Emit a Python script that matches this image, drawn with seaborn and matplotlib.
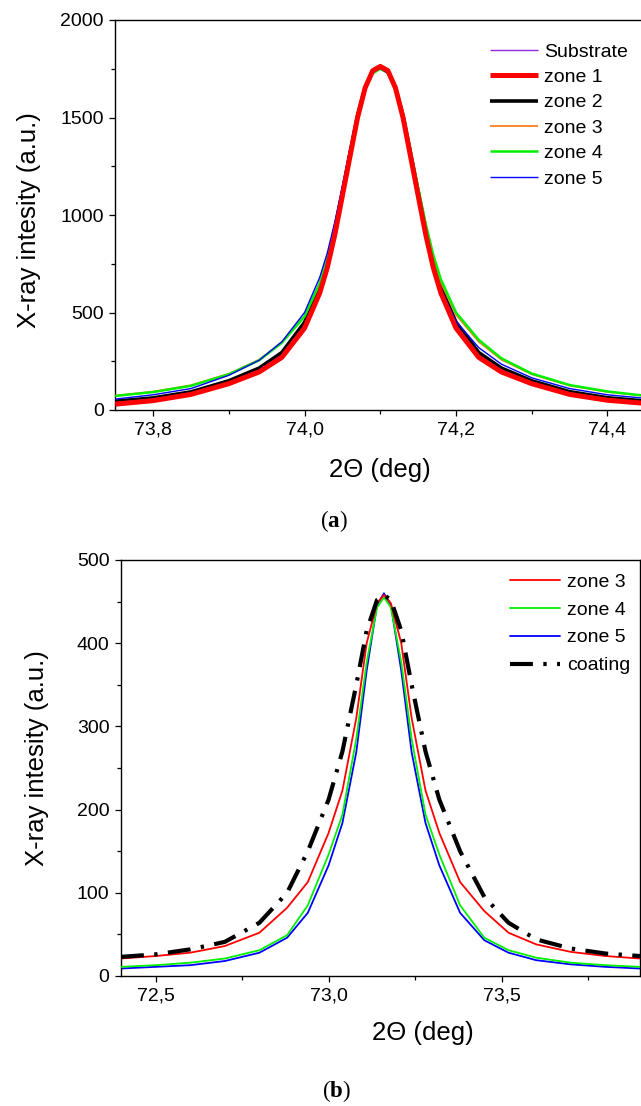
import matplotlib
matplotlib.use("Agg")
import matplotlib.pyplot as plt
import seaborn as sns

# ---------------- data ----------------
# panel (a)
X_A = [73.75, 73.80, 73.85, 73.90, 73.94, 73.97, 74.00,
       74.02, 74.03, 74.04, 74.05, 74.06, 74.07, 74.08, 74.09,
       74.10,
       74.11, 74.12, 74.13, 74.14, 74.15, 74.16, 74.17, 74.18,
       74.20, 74.23, 74.26, 74.30, 74.35, 74.40, 74.45]
SUBSTRATE_A = [38, 56, 88, 142, 205, 282, 435,
               615, 745, 915, 1110, 1310, 1505, 1652, 1738,
               1762,
               1738, 1652, 1505, 1310, 1110, 915, 745, 615,
               435, 282, 205, 142, 88, 58, 40]
ZONE1_A = [30, 48, 80, 135, 195, 270, 420,
           600, 730, 900, 1100, 1300, 1500, 1652, 1740,
           1762,
           1740, 1652, 1500, 1300, 1100, 900, 730, 600,
           420, 270, 195, 135, 80, 50, 34]
ZONE2_A = [45, 62, 93, 150, 215, 295, 450,
           630, 760, 930, 1120, 1318, 1510, 1655, 1739,
           1762,
           1739, 1655, 1510, 1318, 1120, 930, 760, 630,
           450, 295, 215, 150, 94, 63, 46]
ZONE3_A = [74, 94, 127, 186, 258, 347, 482,
           650, 772, 930, 1115, 1305, 1497, 1642, 1726,
           1750,
           1726, 1645, 1502, 1315, 1128, 940, 780, 655,
           488, 350, 258, 183, 125, 93, 72]
ZONE4_A = [72, 92, 124, 183, 255, 345, 480,
           650, 775, 935, 1120, 1310, 1500, 1645, 1727,
           1750,
           1730, 1652, 1510, 1325, 1140, 955, 795, 670,
           500, 360, 265, 187, 128, 95, 73]
ZONE5_A = [56, 78, 110, 178, 255, 350, 500,
           680, 805, 965, 1150, 1340, 1525, 1665, 1740,
           1752,
           1727, 1640, 1490, 1295, 1100, 905, 745, 620,
           455, 320, 235, 165, 110, 78, 60]
LABELS_A = ["Substrate", "zone 1", "zone 2", "zone 3", "zone 4", "zone 5"]

# panel (b)
X_B = [72.40, 72.50, 72.60, 72.70, 72.80, 72.88, 72.94, 73.00, 73.04, 73.08, 73.11, 73.14,
       73.16, 73.18, 73.21, 73.24, 73.28, 73.32, 73.38, 73.45, 73.52, 73.60, 73.70, 73.80, 73.90]
ZONE3_B = [21, 24, 28, 36, 52, 82, 113, 172, 223, 310, 400, 448,
           458, 448, 400, 310, 223, 172, 113, 78, 52, 38, 29, 24, 21]
ZONE4_B = [11, 13, 16, 21, 31, 49, 85, 146, 194, 285, 377, 443,
           455, 443, 377, 285, 194, 146, 85, 46, 31, 22, 16, 13, 11]
ZONE5_B = [9, 11, 13, 18, 28, 46, 76, 133, 184, 269, 367, 446,
           460, 446, 367, 269, 184, 133, 76, 43, 28, 19, 14, 11, 9]
COATING_B = [23, 26, 32, 41, 64, 100, 150, 212, 270, 350, 415, 452,
             458, 452, 415, 350, 270, 212, 150, 95, 64, 44, 33, 27, 24]
LABELS_B = ["zone 3", "zone 4", "zone 5", "coating"]

# ticks
XT_A = [73.8, 74.0, 74.2, 74.4]
XT_A_LABELS = ["73,8", "74,0", "74,2", "74,4"]
XT_A_MINOR = [73.9, 74.1, 74.3]
YT_A = [0, 500, 1000, 1500, 2000]
YT_A_MINOR = [250, 750, 1250, 1750]
XT_B = [72.5, 73.0, 73.5]
XT_B_LABELS = ["72,5", "73,0", "73,5"]
XT_B_MINOR = [72.75, 73.25, 73.75]
YT_B = [0, 100, 200, 300, 400, 500]
YT_B_MINOR = [50, 150, 250, 350, 450]

# ---------------- style ----------------
sns.set_theme(style="ticks", rc={
    "axes.edgecolor": "black", "xtick.color": "black", "ytick.color": "black",
    "text.color": "black", "axes.labelcolor": "black", "axes.linewidth": 1.0,
})
plt.rcParams["font.family"] = ["Liberation Sans", "DejaVu Sans"]
plt.rcParams["mathtext.fontset"] = "custom"
plt.rcParams["mathtext.rm"] = "Liberation Serif"
plt.rcParams["mathtext.bf"] = "Liberation Serif:bold"

W, H = 641, 1106
fig = plt.figure(figsize=(W / 100, H / 100), dpi=100)
ax1 = fig.add_axes([115.3 / W, 1 - 410 / H, (643 - 115.3) / W, 390 / H])
ax2 = fig.add_axes([121 / W, 1 - 976 / H, 519 / W, 416 / H])

# panel (a) lines: (values, color, linewidth[pt], zorder)
styles_a = [
    (SUBSTRATE_A, "#8a2be2", 1.0, 4),
    (ZONE1_A, "#ff0000", 3.6, 8),
    (ZONE2_A, "#000000", 2.6, 3),
    (ZONE3_A, "#ff8020", 1.3, 5),
    (ZONE4_A, "#00f000", 1.8, 6),
    (ZONE5_A, "#0000ff", 1.0, 7),
]
for lab, (yv, c, lw, z) in zip(LABELS_A, styles_a):
    sns.lineplot(x=X_A, y=yv, ax=ax1, color=c, lw=lw, label=lab, zorder=z,
                 sort=False, solid_capstyle="butt", solid_joinstyle="round")

styles_b = [
    (ZONE3_B, "#ff0000", 1.3, "-", 4),
    (ZONE4_B, "#00f000", 1.3, "-", 3),
    (ZONE5_B, "#0000ff", 1.3, "-", 2),
    (COATING_B, "#000000", 3.0, (0, (5.5, 2.5, 0.8, 2.5)), 5),
]
for lab, (yv, c, lw, ls, z) in zip(LABELS_B, styles_b):
    sns.lineplot(x=X_B, y=yv, ax=ax2, color=c, lw=lw, ls=ls, label=lab, zorder=z,
                 sort=False, dash_capstyle="butt", solid_joinstyle="round")

# axes formatting
ax1.set_xlim(73.75, 74.447)
ax1.set_ylim(0, 2000)
ax2.set_xlim(72.4, 73.9)
ax2.set_ylim(0, 500)

for ax, xt, xl, xm, yt, ym in [
    (ax1, XT_A, XT_A_LABELS, XT_A_MINOR, YT_A, YT_A_MINOR),
    (ax2, XT_B, XT_B_LABELS, XT_B_MINOR, YT_B, YT_B_MINOR),
]:
    ax.set_xticks(xt)
    ax.set_xticklabels(xl)
    ax.set_xticks(xm, minor=True)
    ax.set_yticks(yt)
    ax.set_yticks(ym, minor=True)
    ax.tick_params(which="major", direction="out", length=4.3, width=0.9,
                   labelsize=14, pad=4)
    ax.tick_params(which="minor", direction="out", length=2.6, width=0.9)
    for sp in ax.spines.values():
        sp.set_linewidth(1.0)
        sp.set_color("black")
    ax.set_xlabel("2\u0398 (deg)", fontsize=18.5)
    ax.set_ylabel("X-ray intesity (a.u.)", fontsize=18.5)
    ax.xaxis.label.set_va("center")
    ax.yaxis.label.set_va("center")

ax1.xaxis.set_label_coords((380 - 115.3) / (643 - 115.3), (410 - 470) / 390)
ax1.yaxis.set_label_coords((29 - 115.3) / (643 - 115.3), (410 - 220) / 390)
ax2.xaxis.set_label_coords((423 - 121) / 519, (976 - 1033) / 416)
ax2.yaxis.set_label_coords((37 - 121) / 519, (976 - 758) / 416)

# legends
h1, l1 = ax1.get_legend_handles_labels()
ax1.legend(h1, l1, loc="upper left", bbox_to_anchor=(490 / W, 1 - 43 / H),
           bbox_transform=fig.transFigure, frameon=False, fontsize=14,
           handlelength=2.47, handletextpad=0.3, labelspacing=0.40,
           borderpad=0, borderaxespad=0)
h2, l2 = ax2.get_legend_handles_labels()
ax2.legend(h2, l2, loc="upper left", bbox_to_anchor=(510 / W, 1 - 573 / H),
           bbox_transform=fig.transFigure, frameon=False, fontsize=14,
           handlelength=2.58, handletextpad=0.36, labelspacing=0.53,
           borderpad=0, borderaxespad=0)

# panel captions
fig.text(334 / W, 1 - 521 / H, r"$\mathrm{(}\mathbf{a}\mathrm{)}$", ha="center", va="center", fontsize=16.5)
fig.text(336 / W, 1 - 1091 / H, r"$\mathrm{(}\mathbf{b}\mathrm{)}$", ha="center", va="center", fontsize=16.5)

fig.savefig("out.png", dpi=100)
